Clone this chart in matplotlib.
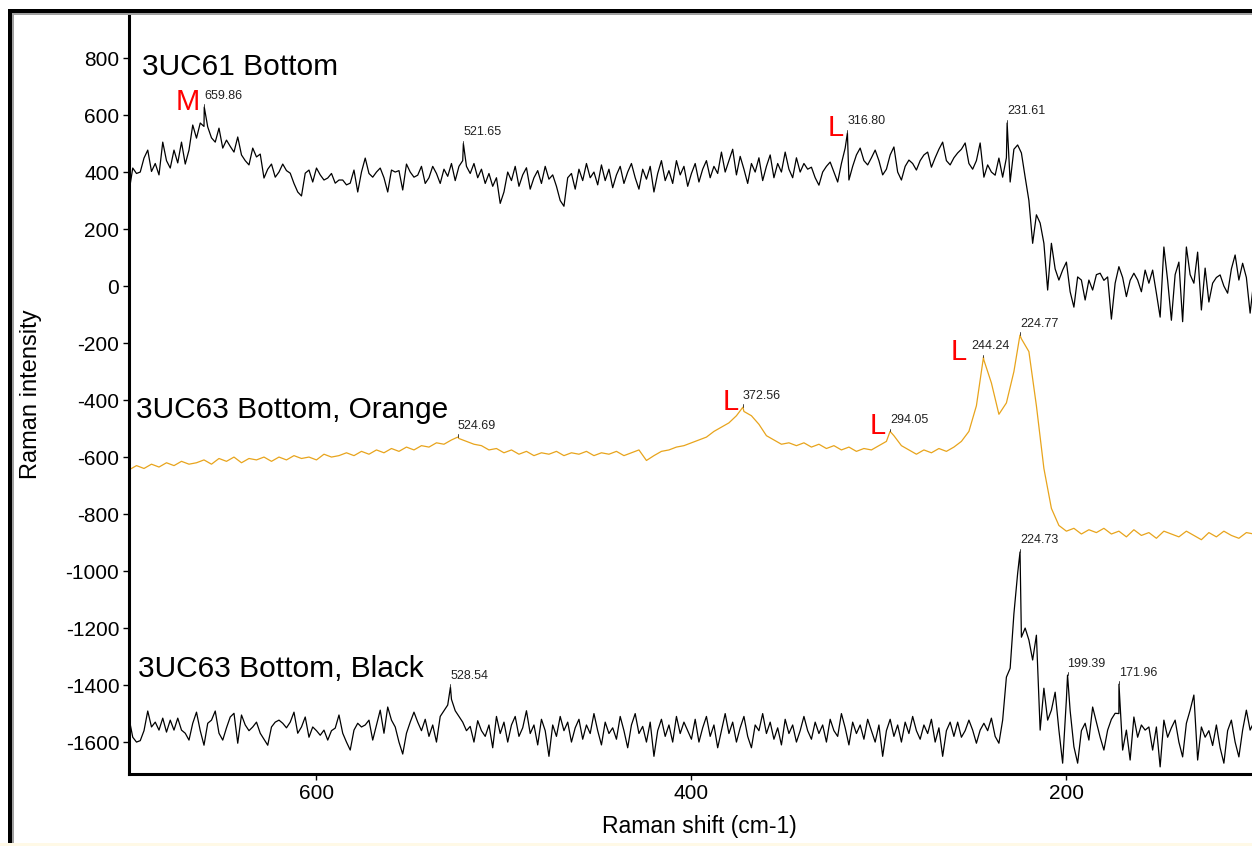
import numpy as np
import matplotlib.pyplot as plt
from matplotlib.patches import Rectangle

plt.rcParams['font.family'] = ['Liberation Sans', 'DejaVu Sans']
plt.rcParams['axes.unicode_minus'] = False

# Raman shift grids (cm-1): noisy black spectra read every 2 cm-1, orange every 4
shift_fine = np.arange(700, 99, -2)
shift_coarse = np.arange(700, 99, -4)

# 3UC61 Bottom
uc61 = [330, 414, 395, 400, 449, 477, 402, 430, 390, 505, 440, 414, 477, 432, 505, 428, 477, 565, 519, 572,
        560, 558, 520, 505, 554, 484, 512, 490, 470, 523, 460, 440, 425, 484, 453, 463, 379, 410, 428, 382,
        400, 428, 405, 396, 360, 330, 316, 396, 407, 365, 414, 390, 372, 379, 395, 361, 372, 372, 355, 361,
        407, 330, 400, 449, 395, 382, 400, 414, 380, 330, 407, 400, 405, 337, 428, 400, 382, 389, 420, 360,
        380, 420, 395, 360, 410, 385, 430, 370, 420, 440, 420, 395, 430, 380, 410, 360, 395, 350, 380, 290,
        330, 400, 370, 420, 350, 390, 415, 340, 380, 405, 360, 420, 375, 390, 350, 300, 280, 380, 395, 340,
        410, 370, 430, 380, 400, 355, 425, 370, 410, 345, 390, 420, 360, 400, 430, 380, 340, 410, 375, 420,
        330, 395, 440, 370, 405, 360, 440, 390, 420, 350, 395, 430, 365, 410, 440, 380, 420, 395, 470, 400,
        440, 480, 390, 455, 410, 360, 430, 400, 450, 370, 420, 460, 380, 430, 400, 470, 410, 380, 450, 400,
        430, 410, 417, 380, 354, 400, 420, 435, 400, 365, 430, 484, 372, 420, 460, 484, 440, 425, 450, 477,
        440, 390, 410, 460, 488, 400, 372, 420, 442, 430, 407, 440, 460, 470, 417, 450, 480, 505, 440, 425,
        450, 467, 480, 502, 430, 410, 440, 502, 382, 425, 400, 389, 449, 382, 450, 365, 480, 495, 467, 382,
        300, 150, 250, 221, 150, -14, 150, 60, 21, 56, 84, -20, -74, 32, 21, -49, 21, -14, 40, 45,
        20, 32, -116, 10, 68, 30, -37, 20, 45, 21, -20, 56, 10, 56, -25, -109, 137, 20, -120, 40,
        84, -125, 137, 40, 10, 119, -84, 63, -56, 10, 30, 39, 0, -25, 60, 109, 21, 80, 30, -95,
        21]
uc61_peak_x = [659.86, 521.65, 316.80, 231.61]
uc61_peak_y = [628, 500, 537, 572]
uc61_marks = ['M', '', 'L', '']

# 3UC63 Bottom, Orange
orange = [-645, -630, -640, -625, -635, -620, -630, -615, -625, -620,
          -610, -625, -605, -615, -600, -620, -605, -610, -600, -615,
          -600, -610, -595, -605, -600, -610, -590, -600, -595, -585,
          -595, -580, -590, -575, -585, -570, -580, -565, -575, -560,
          -565, -550, -555, -540, -535, -545, -555, -560, -575, -570,
          -585, -575, -590, -580, -595, -585, -590, -580, -595, -585,
          -590, -580, -595, -585, -590, -580, -595, -585, -575, -612,
          -595, -580, -575, -565, -560, -550, -540, -530, -510, -495,
          -480, -455, -440, -455, -485, -525, -540, -555, -550, -560,
          -550, -565, -555, -570, -560, -575, -565, -580, -570, -575,
          -560, -545, -525, -560, -575, -590, -575, -585, -570, -580,
          -565, -545, -510, -420, -260, -340, -450, -410, -300, -185,
          -230, -420, -640, -780, -840, -860, -850, -870, -855, -865,
          -850, -870, -860, -880, -855, -875, -865, -885, -860, -870,
          -880, -860, -875, -890, -865, -880, -860, -875, -885, -865,
          -870]
orange_peak_x = [524.69, 372.56, 294.05, 244.24, 224.77]
orange_peak_y = [-530, -425, -510, -250, -172]
orange_marks = ['', 'L', 'L', 'L', '']

# 3UC63 Bottom, Black
black = [-1516, -1583, -1600, -1595, -1560, -1491, -1547, -1530, -1558, -1516,
         -1565, -1523, -1558, -1516, -1558, -1569, -1593, -1534, -1495, -1560,
         -1611, -1534, -1523, -1491, -1569, -1593, -1550, -1512, -1499, -1604,
         -1505, -1540, -1560, -1547, -1530, -1569, -1590, -1611, -1547, -1530,
         -1523, -1534, -1550, -1530, -1495, -1569, -1547, -1512, -1583, -1547,
         -1560, -1576, -1558, -1593, -1560, -1551, -1505, -1569, -1600, -1628,
         -1558, -1534, -1547, -1540, -1523, -1593, -1540, -1488, -1569, -1477,
         -1523, -1547, -1600, -1642, -1569, -1530, -1495, -1530, -1560, -1520,
         -1580, -1540, -1600, -1510, -1490, -1470, -1450, -1490, -1510, -1530,
         -1560, -1545, -1600, -1525, -1560, -1580, -1540, -1620, -1510, -1570,
         -1530, -1600, -1540, -1510, -1580, -1550, -1490, -1570, -1540, -1610,
         -1520, -1560, -1650, -1540, -1580, -1510, -1560, -1530, -1600, -1550,
         -1520, -1590, -1540, -1570, -1500, -1560, -1610, -1530, -1570, -1550,
         -1590, -1510, -1560, -1620, -1540, -1500, -1570, -1545, -1600, -1530,
         -1650, -1560, -1520, -1580, -1540, -1600, -1510, -1570, -1530, -1560,
         -1590, -1520, -1600, -1550, -1510, -1580, -1540, -1620, -1560, -1500,
         -1570, -1530, -1600, -1550, -1510, -1580, -1620, -1540, -1560, -1500,
         -1570, -1530, -1590, -1550, -1610, -1520, -1570, -1540, -1600, -1560,
         -1510, -1560, -1590, -1530, -1570, -1540, -1600, -1520, -1560, -1580,
         -1500, -1550, -1610, -1530, -1570, -1540, -1590, -1520, -1560, -1600,
         -1540, -1650, -1560, -1520, -1580, -1540, -1600, -1530, -1570, -1510,
         -1560, -1590, -1540, -1570, -1520, -1600, -1550, -1650, -1560, -1530,
         -1580, -1530, -1583, -1560, -1523, -1558, -1604, -1558, -1534, -1560,
         -1516, -1580, -1604, -1523, -1372, -1341, -1150, -1008, -1232, -1200,
         -1242, -1312, -1225, -1558, -1411, -1523, -1488, -1425, -1558, -1674,
         -1450, -1490, -1616, -1674, -1560, -1534, -1593, -1477, -1530, -1583,
         -1628, -1558, -1520, -1499, -1500, -1628, -1558, -1663, -1512, -1583,
         -1540, -1558, -1547, -1628, -1547, -1687, -1523, -1583, -1550, -1523,
         -1600, -1652, -1534, -1488, -1435, -1663, -1547, -1583, -1560, -1612,
         -1540, -1620, -1674, -1560, -1523, -1600, -1652, -1558, -1488, -1558,
         -1530]
black_peak_x = [528.54, 224.73, 199.39, 171.96]
black_peak_y = [-1407, -933, -1365, -1397]
black_marks = ['', '', '', '']

names = ['3UC61 Bottom', '3UC63 Bottom, Orange', '3UC63 Bottom, Black']
colours = ['black', '#E8A41C', 'black']
yticks = list(range(-1600, 801, 200))
xticks = [600, 400, 200]


def with_peaks(grid, vals, px, py):
    # put the labelled peak maxima into the sampled spectrum
    assert len(grid) == len(vals)
    x = np.concatenate([grid, px])
    y = np.concatenate([vals, py])
    o = np.argsort(x)[::-1]
    return x[o], y[o]


fig = plt.figure(figsize=(12.52, 8.46), dpi=100)
ax = fig.add_axes([129 / 1252, 72 / 846, 1123 / 1252, 759 / 846])

series = [(shift_fine, uc61, uc61_peak_x, uc61_peak_y, uc61_marks),
          (shift_coarse, orange, orange_peak_x, orange_peak_y, orange_marks),
          (shift_fine, black, black_peak_x, black_peak_y, black_marks)]
name_pos = [(693, 740), (696, -463), (695, -1372)]

for (grid, vals, px, py, marks), name, col, pos in zip(series, names, colours, name_pos):
    x, y = with_peaks(grid, vals, px, py)
    ax.plot(x, y, color=col, lw=0.9)
    ax.text(pos[0], pos[1], name, fontsize=21.5, color='black', va='baseline', ha='left')

    for p_x, p_y, mk in zip(px, py, marks):
        dx = -9 if p_x == 244.24 else 0
        ax.annotate(f'{p_x:.2f}', xy=(p_x, p_y), xytext=(dx, 4), textcoords='offset points',
                    fontsize=9, color='#222222', ha='left', va='bottom',
                    arrowprops=dict(arrowstyle='-', lw=0.6, color='#222222', shrinkA=0, shrinkB=0,
                                    relpos=(0, 0),
                                    connectionstyle='angle,angleA=0,angleB=90,rad=0'))
        if mk:
            ax.annotate(mk, xy=(p_x, p_y), xytext=(dx - 3, -2), textcoords='offset points',
                        fontsize=21, color='red', ha='right', va='baseline')

ax.set_xlim(700, 101)
ax.set_ylim(-1712, 951)
ax.set_xticks(xticks)
ax.set_yticks(yticks)
ax.tick_params(direction='out', length=4, width=1, labelsize=15, pad=3)

for s in ['top', 'right']:
    ax.spines[s].set_visible(False)
for s in ['left', 'bottom']:
    ax.spines[s].set_linewidth(2.2)

ax.set_xlabel('Raman shift (cm-1)', fontsize=16.5)
ax.set_ylabel('Raman intensity', fontsize=17)
ax.xaxis.set_label_coords(0.508, -0.054)
ax.yaxis.set_label_coords(-0.0775, 0.5)

# window frame around the plot
fig.add_artist(Rectangle((7.5 / 1252, 0), 4.5 / 1252, 1 - 9 / 846, transform=fig.transFigure,
                         color='black', lw=0))
fig.add_artist(Rectangle((12 / 1252, 0), 2 / 1252, 1 - 13.5 / 846, transform=fig.transFigure,
                         color='#A0A0A0', lw=0))
fig.add_artist(Rectangle((7.5 / 1252, 1 - 13.5 / 846), 1, 4.5 / 846, transform=fig.transFigure,
                         color='black', lw=0))
fig.add_artist(Rectangle((12 / 1252, 1 - 15.5 / 846), 1, 2 / 846, transform=fig.transFigure,
                         color='#A0A0A0', lw=0))
fig.add_artist(Rectangle((0, 0), 1, 3 / 846, transform=fig.transFigure,
                         color='#FFF9E6', lw=0))

fig.savefig('out.png', dpi=100)
